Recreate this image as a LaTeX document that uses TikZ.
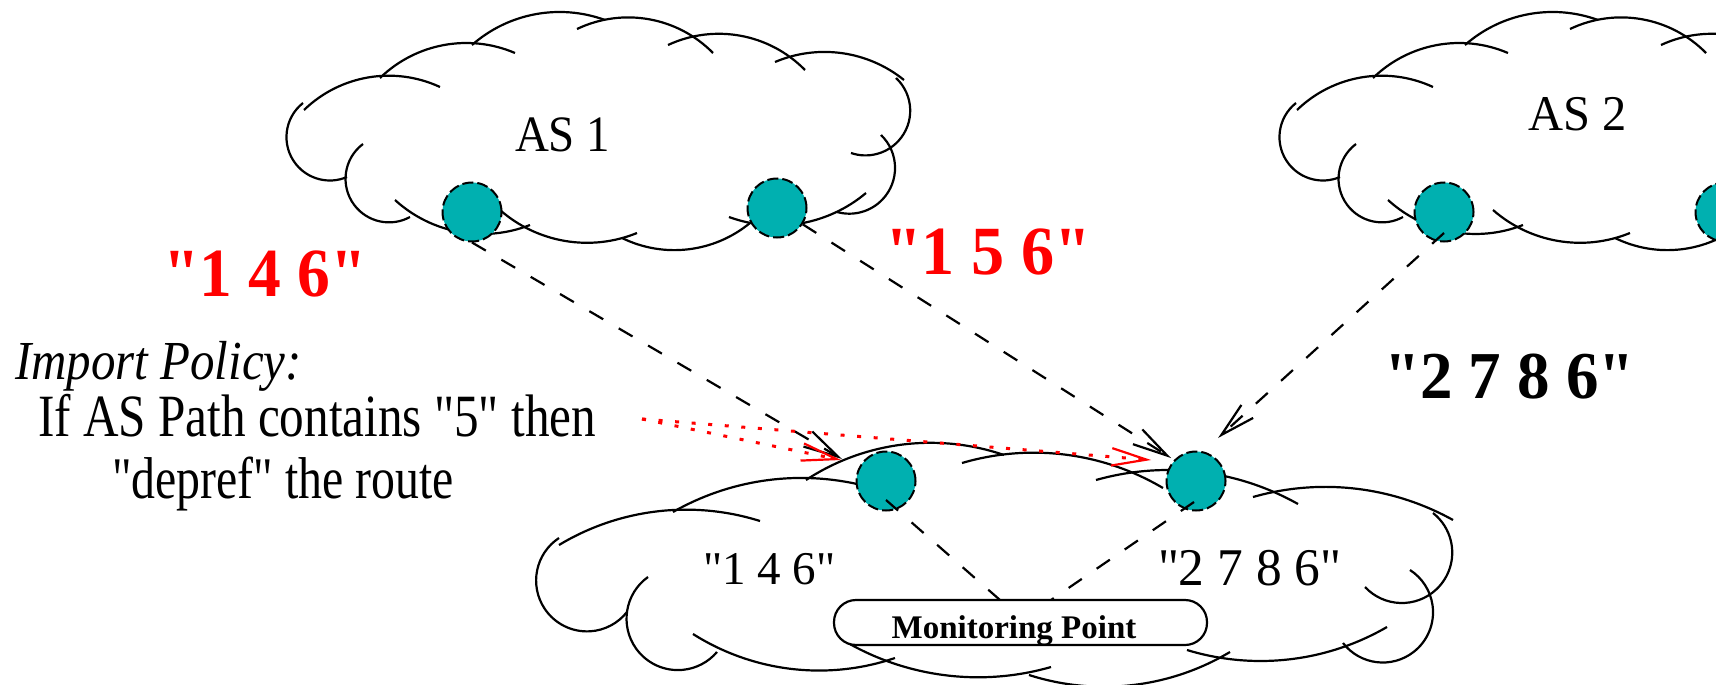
\documentclass[tikz,border=0pt]{standalone}
\usepackage{fontspec}
\setmainfont{Liberation Serif}[Ligatures=TeXOff]
\usepackage{graphicx}
\usetikzlibrary{arrows.meta,calc}

\definecolor{nodeteal}{RGB}{0,176,176}
\definecolor{pathred}{RGB}{255,0,0}

% One scallop of a cloud: a circular arc through a start point,
% a point on the arc and an end point (image coordinates, y down).
\newcommand\cloudarc[6]{%
  \pgfmathsetmacro\CAbx{((#3)-(#1))/100}%
  \pgfmathsetmacro\CAby{((#4)-(#2))/100}%
  \pgfmathsetmacro\CAcx{((#5)-(#1))/100}%
  \pgfmathsetmacro\CAcy{((#6)-(#2))/100}%
  \pgfmathsetmacro\CAbb{(\CAbx)*(\CAbx)+(\CAby)*(\CAby)}%
  \pgfmathsetmacro\CAcc{(\CAcx)*(\CAcx)+(\CAcy)*(\CAcy)}%
  \pgfmathsetmacro\CAdd{2*((\CAbx)*(\CAcy)-(\CAby)*(\CAcx))}%
  \pgfmathsetmacro\CAux{((\CAcy)*(\CAbb)-(\CAby)*(\CAcc))/(\CAdd)}%
  \pgfmathsetmacro\CAuy{((\CAbx)*(\CAcc)-(\CAcx)*(\CAbb))/(\CAdd)}%
  \pgfmathsetmacro\CArr{100*veclen(\CAux,\CAuy)}%
  \pgfmathsetmacro\CAa{atan2(-1*(\CAuy),-1*(\CAux))}%
  \pgfmathsetmacro\CAm{mod(atan2((\CAby)-(\CAuy),(\CAbx)-(\CAux))-(\CAa)+720,360)}%
  \pgfmathsetmacro\CAe{mod(atan2((\CAcy)-(\CAuy),(\CAcx)-(\CAux))-(\CAa)+720,360)}%
  \pgfmathsetmacro\CAend{(\CAm<\CAe) ? (\CAa+\CAe) : (\CAa-360+\CAe)}%
  \draw[cloudline] (#1,#2) arc[start angle=\CAa, end angle=\CAend, radius=\CArr];%
}

% Outline of an autonomous-system cloud (used for AS 1 and AS 2)
\newcommand\ascloud{%
  \cloudarc{303}{103}{293}{160}{347}{177}
  \cloudarc{363}{144}{351}{200}{410}{217}
  \cloudarc{395}{200}{460}{232}{530}{225}
  \cloudarc{500}{210}{560}{240}{637}{233}
  \cloudarc{622}{238}{680}{250}{750}{223}
  \cloudarc{729}{217}{803}{223}{866}{193}
  \cloudarc{881}{135}{895}{170}{837}{212}
  \cloudarc{896}{78}{910}{115}{851}{153}
  \cloudarc{775}{62}{841}{53}{904}{80}
  \cloudarc{668}{45}{736}{35}{805}{70}
  \cloudarc{577}{29}{640}{18}{713}{53}
  \cloudarc{472}{45}{557}{12}{605}{20}
  \cloudarc{380}{78}{467}{43}{515}{53}
  \cloudarc{304}{110}{380}{76}{440}{87}
}

\newcommand\sxt[2]{\scalebox{#1}[1]{#2}}

\begin{document}
\begin{tikzpicture}[x=1pt,y=1pt,yscale=-1,
  cloudline/.style={line width=2.2pt},
  netnode/.style={circle, fill=nodeteal, draw=black, line width=2pt,
    dash pattern=on 11pt off 4pt, minimum size=59pt, inner sep=0pt},
  routearrow/.style={line width=2.2pt, dash pattern=on 16pt off 18pt,
    -{Straight Barb[length=35pt,width=17.5pt]}},
  monline/.style={line width=2.2pt, dash pattern=on 16pt off 18pt},
  policyarrow/.style={draw=pathred, line width=3pt, dash pattern=on 4pt off 12.6pt,
    -{Straight Barb[length=35pt,width=17.5pt,line width=2.2pt]}},
  lbl/.style={anchor=base west, inner sep=0pt, outer sep=0pt},
  monbox/.style={draw, fill=white, line width=2.2pt, rounded corners=22pt,
    minimum width=373pt, minimum height=45pt, inner sep=0pt}]

\useasboundingbox (0,0) rectangle (1716,685);
\clip (0,0) rectangle (1716,685);

% clouds
\ascloud
\begin{scope}[xshift=993pt]
  \ascloud
\end{scope}

% customer cloud with the monitoring point
\cloudarc{559}{538}{540}{600}{627}{612}
\cloudarc{648}{577}{635}{647}{717}{652}
\cloudarc{693}{634}{803}{670}{895}{658}
\cloudarc{848}{643}{966}{677}{1051}{667}
\cloudarc{1029}{675}{1123}{686}{1230}{652}
\cloudarc{1187}{650}{1283}{660}{1387}{627}
\cloudarc{1343}{643}{1390}{662}{1410}{570}
\cloudarc{1365}{587}{1403}{603}{1433}{513}
\cloudarc{1253}{497}{1333}{487}{1453}{520}
\cloudarc{1096}{480}{1167}{470}{1298}{504}
\cloudarc{962}{463}{1047}{453}{1163}{488}
\cloudarc{806}{480}{940}{443}{1004}{455}
\cloudarc{673}{512}{807}{478}{857}{484}
\cloudarc{559}{545}{673}{510}{760}{521}

\node[monbox] (mp) at (1020.5,622.5) {};
\node[lbl, anchor=base] (mptext) at (1014,638)
  {\fontsize{33}{33}\selectfont\bfseries Monitoring Point};

% routers
\node[netnode] (a1l) at (472,212) {};
\node[netnode] (a1r) at (777,208) {};
\node[netnode] (a2l) at (1444,212) {};
\node[netnode] (a2r) at (1725,212) {};
\node[netnode] (bl) at (886,481) {};
\node[netnode] (br) at (1196,481) {};

% arrow ends and policy origin
\coordinate (t1) at (842,459);
\coordinate (t2) at (1171,458);
\coordinate (t3) at (1218,438);
\coordinate (r0) at (642,419);
\coordinate (r1) at (841,460);
\coordinate (r2) at (1151,460);
\coordinate (m1) at (1000,600);
\coordinate (m2) at (1051,600);

% route announcements
\draw[routearrow] (a1l.south) -- (t1);
\draw[routearrow] (a1r) -- (t2);
\draw[routearrow] ($(a2l.center)+(0,21)$) -- (t3);

% sessions to the monitoring point
\draw[monline] ($(bl.center)+(0,19)$) -- (m1);
\draw[monline] ($(br.center)+(-2,21)$) -- (m2);

% import policy
\draw[policyarrow] (r0) -- (r1);
\draw[policyarrow] (r0) -- (r2);

% labels
\node[lbl] (as1) at (515,151) {\fontsize{51}{51}\selectfont\sxt{0.92}{AS 1}};
\node[lbl] (as2) at (1528,130) {\fontsize{50}{50}\selectfont\sxt{0.97}{AS 2}};
\node[lbl] (p146) at (703,584) {\fontsize{47}{47}\selectfont "1 4 6"};
\node[lbl] (p2786) at (1158,585) {\fontsize{53}{53}\selectfont\sxt{0.97}{"2 7 8 6"}};

\node[lbl, text=pathred] (ann146) at (163,296)
  {\fontsize{69}{69}\selectfont\bfseries\sxt{0.95}{"1 4 6"}};
\node[lbl, text=pathred] (ann156) at (885,274)
  {\fontsize{69}{69}\selectfont\bfseries\sxt{0.96}{"1 5 6"}};
\node[lbl] (ann2786) at (1384,398)
  {\fontsize{67}{67}\selectfont\bfseries\sxt{0.97}{"2 7 8 6"}};

\node[lbl] (pol0) at (15,379) {\fontsize{55}{55}\selectfont\itshape\sxt{0.89}{Import Policy:}};
\node[lbl] (pol1) at (38,436) {\fontsize{60}{60}\selectfont\sxt{0.82}{If AS Path contains "5" then}};
\node[lbl] (pol2) at (112,498) {\fontsize{59}{59}\selectfont\sxt{0.81}{"depref" the route}};

\end{tikzpicture}
\end{document}
